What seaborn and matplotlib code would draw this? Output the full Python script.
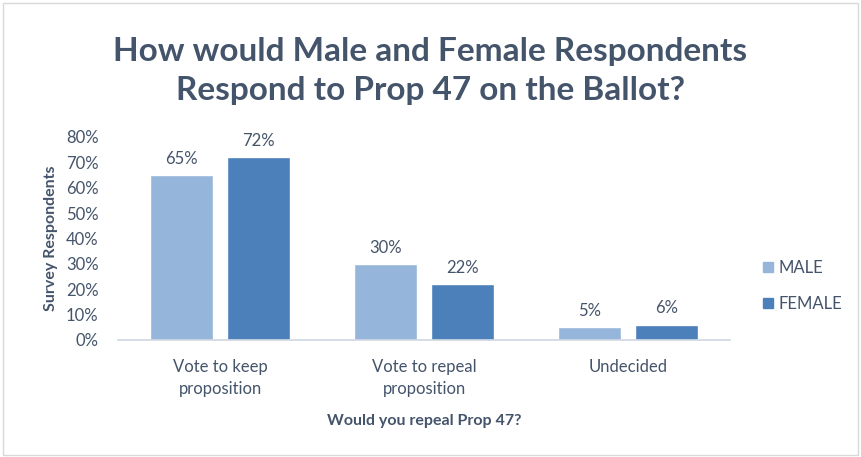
import matplotlib
matplotlib.use("Agg")
import matplotlib.pyplot as plt
import seaborn as sns
import pandas as pd
from matplotlib.patches import Rectangle
from matplotlib.lines import Line2D

categories = ["Vote to keep\nproposition", "Vote to repeal\nproposition", "Undecided"]
male = [65, 30, 5]
female = [72, 22, 6]
series = ["MALE", "FEMALE"]
yticks = [0, 10, 20, 30, 40, 50, 60, 70, 80]

df = pd.DataFrame({
    "cat": categories * 2,
    "val": male + female,
    "sex": [series[0]] * 3 + [series[1]] * 3,
})

sns.set_theme(style="white")
plt.rcParams["font.family"] = ["Lato", "DejaVu Sans"]
txt = "#44546a"
colors = {"MALE": "#95b5da", "FEMALE": "#4b80bb"}

fig = plt.figure(figsize=(8.61, 4.57), dpi=100)
ax = fig.add_axes([118/861, 1 - 340/457, 612/861, 203/457])
sns.barplot(data=df, x="cat", y="val", hue="sex", palette=colors,
            width=0.76, gap=0.19, ax=ax, legend=False, saturation=1)

for cont in ax.containers:
    ax.bar_label(cont, labels=[f"{int(v)}%" for v in cont.datavalues],
                 padding=6, fontsize=12, color=txt)

ax.set_ylim(0, 80)
ax.set_xlim(-0.5, 2.5)
ax.set_yticks(yticks)
ax.set_yticklabels([f"{t}%" for t in yticks], fontsize=12, color=txt)
ax.tick_params(axis="x", labelsize=12, colors=txt, length=0, pad=14)
for lab in ax.get_xticklabels():
    lab.set_linespacing(1.45)
ax.tick_params(axis="y", length=0, pad=14)
for s in ["top", "right", "left"]:
    ax.spines[s].set_visible(False)
ax.spines["bottom"].set_color("#d0d7e2")
ax.spines["bottom"].set_linewidth(1.2)
ax.set_xlabel("Would you repeal Prop 47?", fontsize=11.5, fontweight="bold", color=txt, labelpad=12)
ax.set_ylabel("Survey Respondents", fontsize=11.5, fontweight="bold", color=txt, labelpad=6)

fig.text(0.5, 1 - 71/457, "How would Male and Female Respondents\nRespond to Prop 47 on the Ballot?",
         ha="center", va="center", fontsize=24, fontweight="bold", color=txt, linespacing=1.4)

handles = [Line2D([], [], marker="s", linestyle="", markersize=7, color=colors[s]) for s in series]
fig.legend(handles, series, loc="center left", bbox_to_anchor=(745/861, 1 - 286/457),
           frameon=False, fontsize=12, labelcolor=txt, handletextpad=0.1,
           labelspacing=1.2, handlelength=1.0)

fig.patches.append(Rectangle((0.003, 0.004), 0.994, 0.99, transform=fig.transFigure,
                             fill=False, edgecolor="#d9d9d9", linewidth=1))
fig.savefig("out.png", dpi=100, facecolor="white")
